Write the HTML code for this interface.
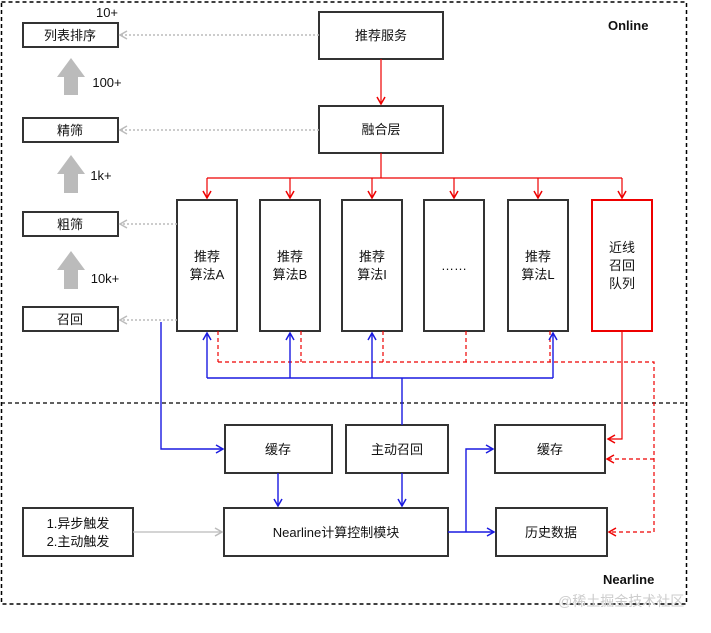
<!DOCTYPE html>
<html><head><meta charset="utf-8"><style>
body{margin:0;background:#fff;width:711px;height:628px;overflow:hidden}
svg text{font-family:"Liberation Sans","Noto Sans CJK SC",sans-serif;font-size:13px;fill:#111}
</style></head><body>
<svg width="711" height="628" viewBox="0 0 711 628">
<defs>
<marker id="r" markerWidth="10" markerHeight="10" refX="8" refY="5" orient="auto" markerUnits="userSpaceOnUse"><path d="M1,1 L8,5 L1,9" fill="none" stroke="#e00" stroke-width="1.5"/></marker>
<marker id="b" markerWidth="10" markerHeight="10" refX="8" refY="5" orient="auto" markerUnits="userSpaceOnUse"><path d="M1,1 L8,5 L1,9" fill="none" stroke="#1a1ae0" stroke-width="1.5"/></marker>
<marker id="g" markerWidth="10" markerHeight="10" refX="8" refY="5" orient="auto" markerUnits="userSpaceOnUse"><path d="M1,1 L8,5 L1,9" fill="none" stroke="#bbb" stroke-width="1.5"/></marker>
</defs>
<rect x="1.5" y="2" width="685" height="602" fill="none" stroke="#000" stroke-dasharray="4,3" stroke-width="1.5"/>
<line x1="1" y1="403" x2="686" y2="403" stroke="#000" stroke-dasharray="4,3" stroke-width="1.3"/>
<text x="608" y="30" style="font-weight:bold">Online</text>
<text x="603" y="584" style="font-weight:bold">Nearline</text>
<g fill="#fff" stroke="#333" stroke-width="2">
<rect x="23" y="23" width="95" height="24"/><rect x="23" y="118" width="95" height="24"/>
<rect x="23" y="212" width="95" height="24"/><rect x="23" y="307" width="95" height="24"/>
<rect x="319" y="12" width="124" height="47"/><rect x="319" y="106" width="124" height="47"/>
<rect x="177" y="200" width="60" height="131"/><rect x="260" y="200" width="60" height="131"/>
<rect x="342" y="200" width="60" height="131"/><rect x="424" y="200" width="60" height="131"/>
<rect x="508" y="200" width="60" height="131"/>
<rect x="225" y="425" width="107" height="48"/><rect x="346" y="425" width="102" height="48"/>
<rect x="495" y="425" width="110" height="48"/><rect x="224" y="508" width="224" height="48"/>
<rect x="496" y="508" width="111" height="48"/><rect x="23" y="508" width="110" height="48"/>
</g>
<rect x="592" y="200" width="60" height="131" fill="#fff" stroke="#e00" stroke-width="2"/>
<g text-anchor="middle">
<text x="70" y="40">列表排序</text><text x="70" y="135">精筛</text><text x="70" y="229">粗筛</text><text x="70" y="324">召回</text>
<text x="381" y="40">推荐服务</text><text x="381" y="134">融合层</text>
<text x="207" y="261">推荐</text><text x="207" y="279">算法A</text>
<text x="290" y="261">推荐</text><text x="290" y="279">算法B</text>
<text x="372" y="261">推荐</text><text x="372" y="279">算法I</text>
<text x="454" y="270">……</text>
<text x="538" y="261">推荐</text><text x="538" y="279">算法L</text>
<text x="622" y="252">近线</text><text x="622" y="270">召回</text><text x="622" y="288">队列</text>
<text x="278" y="454">缓存</text><text x="397" y="454">主动召回</text><text x="550" y="454">缓存</text>
<text x="336" y="537">Nearline计算控制模块</text><text x="551" y="537">历史数据</text>
<text x="78" y="528">1.异步触发</text><text x="78" y="546">2.主动触发</text>
<text x="107" y="17">10+</text><text x="107" y="87">100+</text><text x="101" y="180">1k+</text><text x="105" y="283">10k+</text>
</g>
<g fill="#bbb">
<path d="M57,77 L71,58 L85,77 L78,77 L78,95 L64,95 L64,77Z"/>
<path d="M57,174 L71,155 L85,174 L78,174 L78,193 L64,193 L64,174Z"/>
<path d="M57,270 L71,251 L85,270 L78,270 L78,289 L64,289 L64,270Z"/>
</g>
<g stroke="#bbb" stroke-width="1.5" stroke-dasharray="2,2" fill="none">
<line x1="319" y1="35" x2="120" y2="35" marker-end="url(#g)"/>
<line x1="319" y1="130" x2="120" y2="130" marker-end="url(#g)"/>
<line x1="177" y1="224" x2="120" y2="224" marker-end="url(#g)"/>
<line x1="177" y1="320" x2="120" y2="320" marker-end="url(#g)"/>
</g>
<line x1="133" y1="532" x2="222" y2="532" stroke="#bbb" stroke-width="1.2" marker-end="url(#g)"/>
<g stroke="#e00" stroke-width="1.2" fill="none">
<line x1="381" y1="59" x2="381" y2="104" marker-end="url(#r)"/>
<line x1="381" y1="153" x2="381" y2="178"/>
<line x1="207" y1="178" x2="622" y2="178"/>
<line x1="207" y1="178" x2="207" y2="198" marker-end="url(#r)"/>
<line x1="290" y1="178" x2="290" y2="198" marker-end="url(#r)"/>
<line x1="372" y1="178" x2="372" y2="198" marker-end="url(#r)"/>
<line x1="454" y1="178" x2="454" y2="198" marker-end="url(#r)"/>
<line x1="538" y1="178" x2="538" y2="198" marker-end="url(#r)"/>
<line x1="622" y1="178" x2="622" y2="198" marker-end="url(#r)"/>
<polyline points="622,331 622,439 608,439" marker-end="url(#r)"/>
</g>
<g stroke="#e00" stroke-width="1.2" fill="none" stroke-dasharray="4,3">
<line x1="218" y1="331" x2="218" y2="362"/><line x1="301" y1="331" x2="301" y2="362"/>
<line x1="383" y1="331" x2="383" y2="362"/><line x1="466" y1="331" x2="466" y2="362"/>
<line x1="550" y1="331" x2="550" y2="362"/>
<polyline points="218,362 654,362 654,532 609,532" marker-end="url(#r)"/>
<polyline points="654,459 607,459" marker-end="url(#r)"/>
</g>
<g stroke="#1a1ae0" stroke-width="1.4" fill="none">
<line x1="207" y1="378" x2="553" y2="378"/>
<line x1="207" y1="378" x2="207" y2="333" marker-end="url(#b)"/>
<line x1="290" y1="378" x2="290" y2="333" marker-end="url(#b)"/>
<line x1="372" y1="378" x2="372" y2="333" marker-end="url(#b)"/>
<line x1="553" y1="378" x2="553" y2="333" marker-end="url(#b)"/>
<line x1="402" y1="378" x2="402" y2="425"/>
<polyline points="161,322 161,449 223,449" marker-end="url(#b)"/>
<line x1="278" y1="473" x2="278" y2="506" marker-end="url(#b)"/>
<line x1="402" y1="473" x2="402" y2="506" marker-end="url(#b)"/>
<line x1="448" y1="532" x2="494" y2="532" marker-end="url(#b)"/>
<polyline points="466,532 466,449 493,449" marker-end="url(#b)"/>
</g>
<text x="558" y="606" style="fill:#ccc;font-size:14px">@稀土掘金技术社区</text>
</svg>
</body></html>
